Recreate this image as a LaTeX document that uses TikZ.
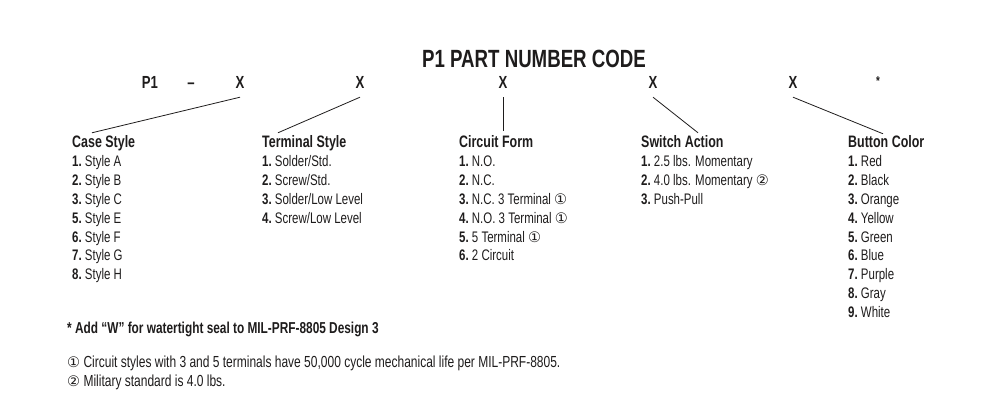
\documentclass[tikz,border=0pt]{standalone}
\usepackage{fontspec}
\setmainfont{Liberation Sans}[FakeStretch=0.75]
\newfontfamily\symfont{DejaVu Sans}
\definecolor{ink}{RGB}{30,28,28}
\newcommand{\nb}[1]{\textbf{#1.}\ }
\newcommand{\circnum}[1]{{\symfont\fontsize{14.5}{16}\selectfont#1}}
\tikzset{
  title/.style={font=\fontsize{24.9}{28}\selectfont\bfseries,text=ink,inner sep=0pt,anchor=base},
  code/.style={font=\fontsize{17.5}{20}\selectfont\bfseries,text=ink,inner sep=0pt,anchor=base},
  head/.style={font=\fontsize{16.6}{19}\selectfont\bfseries,text=ink,inner sep=0pt,anchor=base west},
  entry/.style={font=\fontsize{15.3}{18}\selectfont,text=ink,inner sep=0pt,anchor=base west},
  note/.style={font=\fontsize{16}{19}\selectfont,text=ink,inner sep=0pt,anchor=base west},
  leader/.style={draw=ink,line width=0.8pt}
}

\begin{document}
\begin{tikzpicture}[x=1pt,y=-1pt]
  \useasboundingbox (0,0) rectangle (1001,414);
  \node[title] (ttl) at (534,68) {P1 PART NUMBER CODE};
  % code row
  \node[code] (p1) at (150,89) {P1};
  \node[code] (dash) at (191,89) {--};
  \node[code] (x1) at (240,89) {X};
  \node[code] (x2) at (360,89) {X};
  \node[code] (x3) at (503,89) {X};
  \node[code] (x4) at (653,89) {X};
  \node[code] (x5) at (793,89) {X};
  \node[code,font=\fontsize{13}{15}\selectfont\bfseries] (star) at (878,86) {*};
  % column headings
  \node[head] (case) at (72,148) {Case Style};
  \node[head] (term) at (262,148) {Terminal Style};
  \node[head] (circ) at (459,148) {Circuit Form};
  \node[head] (act) at (641,148) {Switch Action};
  \node[head] (color) at (848,148) {Button Color};
  % option lists
  \foreach \t [count=\n] in {\nb{1}Style A,\nb{2}Style B,\nb{3}Style C,\nb{5}Style E,
      \nb{6}Style F,\nb{7}Style G,\nb{8}Style H}
    \node[entry] (case-\n) at (72,{148+18.8*\n}) {\t};
  \foreach \t [count=\n] in {\nb{1}Solder/Std.,\nb{2}Screw/Std.,\nb{3}Solder/Low Level,
      \nb{4}Screw/Low Level}
    \node[entry] (term-\n) at (262,{148+18.8*\n}) {\t};
  \foreach \t [count=\n] in {\nb{1}N.O.,\nb{2}N.C.,\nb{3}N.C. 3 Terminal \circnum{①},
      \nb{4}N.O. 3 Terminal \circnum{①},\nb{5}5 Terminal \circnum{①},\nb{6}2 Circuit}
    \node[entry] (circ-\n) at (459,{148+18.8*\n}) {\t};
  \foreach \t [count=\n] in {\nb{1}2.5 lbs. Momentary,\nb{2}4.0 lbs. Momentary \circnum{②},
      \nb{3}Push-Pull}
    \node[entry] (act-\n) at (641,{148+18.8*\n}) {\t};
  \foreach \t [count=\n] in {\nb{1}Red,\nb{2}Black,\nb{3}Orange,\nb{4}Yellow,\nb{5}Green,
      \nb{6}Blue,\nb{7}Purple,\nb{8}Gray,\nb{9}White}
    \node[entry] (color-\n) at (848,{148+18.8*\n}) {\t};
  % leaders
  \draw[leader] ([yshift=-8pt]x1.south) -- ([xshift=20pt,yshift=3pt]case.north west);
  \draw[leader] ([yshift=-8pt]x2.south) -- ([xshift=16pt,yshift=3pt]term.north west);
  \draw[leader] ([yshift=-8pt]x3.south) -- ([xshift=44pt,yshift=5pt]circ.north west);
  \draw[leader] ([yshift=-8pt]x4.south) -- ([xshift=57pt,yshift=3pt]act.north west);
  \draw[leader] ([yshift=-8pt]x5.south) -- ([xshift=35pt,yshift=2pt]color.north west);
  % notes
  \node[note,font=\fontsize{15.8}{19}\selectfont\bfseries] (seal) at (67,333)
    {* Add ``W'' for watertight seal to MIL-PRF-8805 Design 3};
  \node[note] (life) at (67,367)
    {\circnum{①} Circuit styles with 3 and 5 terminals have 50,000 cycle mechanical life per MIL-PRF-8805.};
  \node[note] (mil) at (67,386) {\circnum{②} Military standard is 4.0 lbs.};
\end{tikzpicture}
\end{document}
